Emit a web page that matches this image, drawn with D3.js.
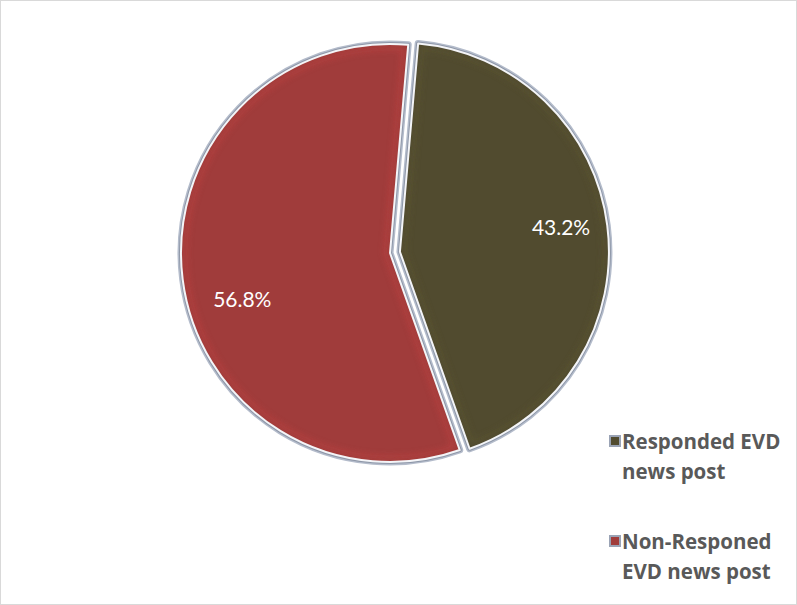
<!DOCTYPE html>
<html>
<head>
<meta charset="utf-8">
<script src="https://cdn.jsdelivr.net/npm/d3@7"></script>
<style>
  body { margin: 0; background: #fff; }
  svg { display: block; }
</style>
</head>
<body>
<svg id="chart" width="797" height="605"></svg>
<script>
// Share of EVD news posts
const categories = ["Responded EVD news post", "Non-Responed EVD news post"];
const values = [43.2, 56.8];
const valueLabels = ["43.2%", "56.8%"];
const colors = ["#514b2f", "#a03c3b"];
const legendLines = [["Responded EVD", "news post"], ["Non-Responed", "EVD news post"]];

const svg = d3.select("#chart");
const W = 797, H = 605;

// outer frame
svg.append("rect").attr("x", 0.5).attr("y", 0.5).attr("width", W - 1).attr("height", H - 1)
  .attr("fill", "#fff").attr("stroke", "#d9d9d9");

const cx = 390, cy = 253, R = 209;
const startRot = 5 * Math.PI / 180;

const pie = d3.pie().sort(null).value(d => d)
  .startAngle(startRot).endAngle(startRot + 2 * Math.PI);
const arcs = pie(values);
const arc = d3.arc().innerRadius(0).outerRadius(R);

const defs = svg.append("defs");
// soft inner bevel: blurred edge shading clipped to the slice
const bevel = defs.append("filter").attr("id", "bevel").attr("x", "-10%").attr("y", "-10%")
  .attr("width", "120%").attr("height", "120%");
bevel.append("feGaussianBlur").attr("stdDeviation", 3);

// explode offsets
const explode = [10, 0];

const g = svg.append("g").attr("transform", `translate(${cx},${cy})`);

arcs.forEach((a, i) => {
  const mid = (a.startAngle + a.endAngle) / 2;
  const dx = explode[i] * Math.sin(mid), dy = -explode[i] * Math.cos(mid);
  const sg = g.append("g").attr("transform", `translate(${dx},${dy})`);
  const d = arc(a);
  const clipId = "clip" + i;
  defs.append("clipPath").attr("id", clipId).append("path").attr("d", d);

  // grey halo
  sg.append("path").attr("d", d).attr("fill", "none")
    .attr("stroke", "#b4bccb").attr("stroke-width", 7).attr("stroke-linejoin", "round");
  sg.append("path").attr("d", d).attr("fill", "none")
    .attr("stroke", "#8e97a8").attr("stroke-width", 4).attr("stroke-linejoin", "round");
  // base fill
  sg.append("path").attr("d", d).attr("fill", colors[i]);
  // inner bevel shading
  const inner = sg.append("g").attr("clip-path", `url(#${clipId})`);
  inner.append("path").attr("d", d).attr("fill", "none")
    .attr("stroke", d3.color(colors[i]).brighter(0.6)).attr("stroke-width", 12)
    .attr("filter", "url(#bevel)").attr("opacity", 0.7);
  inner.append("path").attr("d", d).attr("fill", "none")
    .attr("stroke", d3.color(colors[i]).darker(0.8)).attr("stroke-width", 4)
    .attr("filter", "url(#bevel)").attr("opacity", 0.7);
  // light outline
  sg.append("path").attr("d", d).attr("fill", "none")
    .attr("stroke", "#f4f5f8").attr("stroke-width", 2).attr("stroke-linejoin", "round");
});

// value labels, placed along each slice at a fraction of the radius
const labelRadius = [0.78, 0.74];
const labelTurn = [-1.5, -10];   // degrees from the slice bisector
arcs.forEach((a, i) => {
  const mid = (a.startAngle + a.endAngle) / 2;
  const dx = explode[i] * Math.sin(mid), dy = -explode[i] * Math.cos(mid);
  const ang = mid + labelTurn[i] * Math.PI / 180;
  const lr = R * labelRadius[i];
  g.append("text").attr("x", lr * Math.sin(ang) + dx).attr("y", -lr * Math.cos(ang) + dy)
    .attr("text-anchor", "middle").attr("dominant-baseline", "central")
    .attr("fill", "#fff").attr("font-family", "Lato, sans-serif").attr("font-size", 21)
    .text(valueLabels[i]);
});

// legend
const legendY = [441, 541];
categories.forEach((c, i) => {
  const lg = svg.append("g").attr("transform", `translate(609,${legendY[i]})`);
  lg.append("rect").attr("x", 0).attr("y", -6).attr("width", 12).attr("height", 12)
    .attr("fill", "#9aa3b5");
  lg.append("rect").attr("x", 2).attr("y", -4).attr("width", 8).attr("height", 8)
    .attr("fill", colors[i]);
  legendLines[i].forEach((t, j) => {
    lg.append("text").attr("x", 13).attr("y", j * 30).attr("dominant-baseline", "central")
      .attr("fill", "#595959").attr("font-family", "'Open Sans', sans-serif")
      .attr("font-weight", "bold").attr("font-size", 20.5).text(t);
  });
});
</script>
</body>
</html>
